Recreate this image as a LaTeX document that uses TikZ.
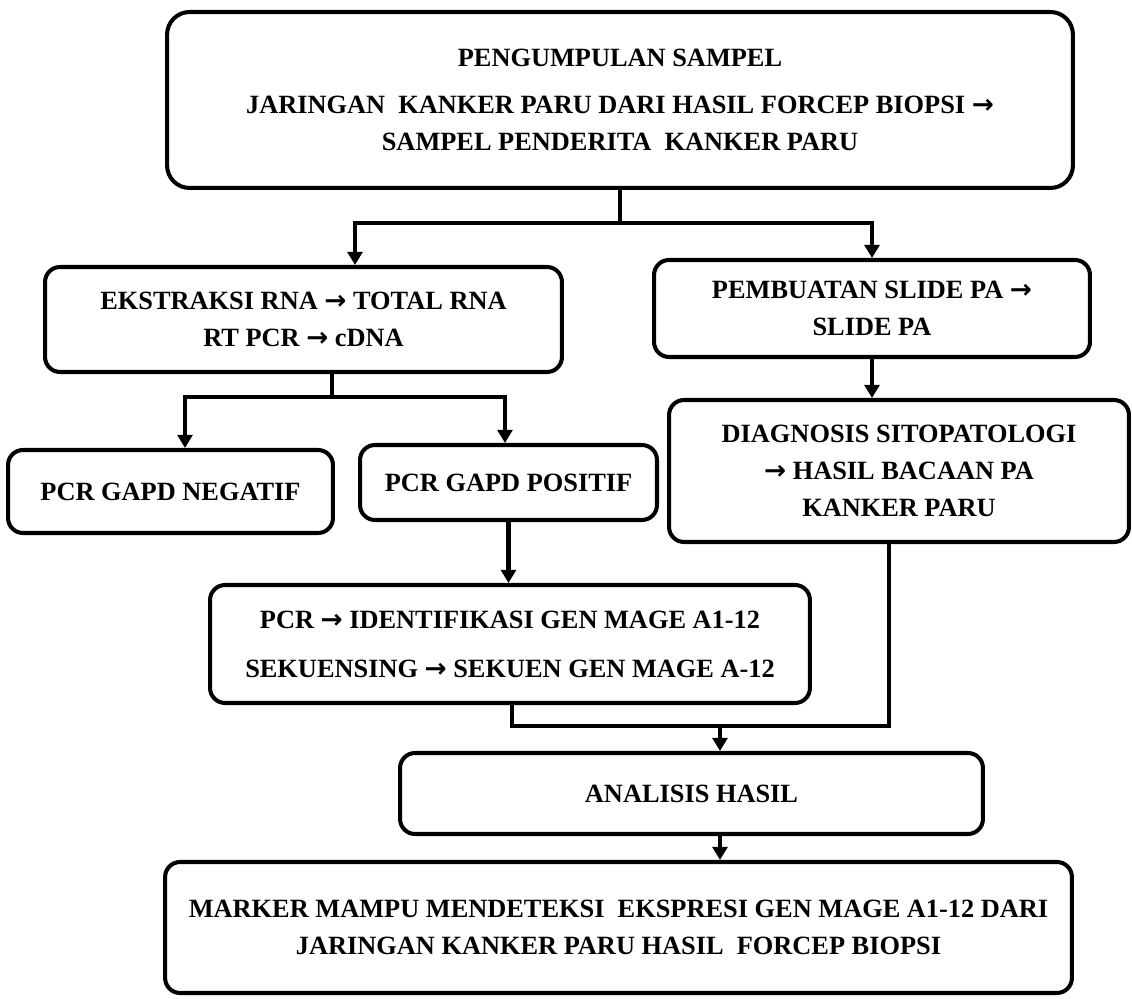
\documentclass[tikz,border=0pt]{standalone}
\usepackage{fontspec}
\setmainfont{Liberation Serif}
\newfontfamily\arrowfont{DejaVu Sans}
\newcommand{\tarrow}{{\arrowfont\bfseries →}}
\usepackage{tikz}
\usetikzlibrary{arrows.meta}

\begin{document}
\begin{tikzpicture}[x=0.02cm, y=-0.02cm,
   box/.style={draw, line width=2.3pt, rounded corners=0.3cm, align=center, inner sep=0pt,
     font=\fontsize{15}{21}\selectfont\bfseries},
   line/.style={line width=2.4pt},
   arr/.style={line width=2.4pt, -{Triangle[length=7.5pt,width=8.5pt]}}]
   \useasboundingbox (0,0) rectangle (1132,999);

   \node[box, rounded corners=0.45cm, minimum width=18.12cm, minimum height=3.52cm] (top) at (620,100)
     {PENGUMPULAN SAMPEL\\[6pt] JARINGAN\ \ KANKER PARU DARI HASIL FORCEP BIOPSI \tarrow\\ SAMPEL PENDERITA\ \ KANKER PARU};
   \node[box, minimum width=10.34cm, minimum height=2.1cm] (ekstr) at (303.5,319.5)
     {EKSTRAKSI RNA \tarrow{} TOTAL RNA\\ RT PCR \tarrow{} cDNA};
   \node[box, minimum width=8.72cm, minimum height=1.94cm] (slide) at (872,308.5)
     {PEMBUATAN SLIDE PA \tarrow\\ SLIDE PA};
   \node[box, minimum width=6.5cm, minimum height=1.66cm] (neg) at (170.5,491.5) {PCR GAPD NEGATIF};
   \node[box, minimum width=5.94cm, minimum height=1.5cm] (pos) at (508.5,482.5) {PCR GAPD POSITIF};
   \node[box, minimum width=9.2cm, minimum height=2.84cm] (diag) at (899,471)
     {DIAGNOSIS SITOPATOLOGI\\ \tarrow{} HASIL BACAAN PA\\ KANKER PARU};
   \node[box, minimum width=12cm, minimum height=2.36cm] (pcr) at (510,644)
     {PCR \tarrow{} IDENTIFIKASI GEN MAGE A1-12\\[7pt] SEKUENSING \tarrow{} SEKUEN GEN MAGE A-12};
   \node[box, minimum width=11.66cm, minimum height=1.62cm] (anal) at (691.5,793.5) {ANALISIS HASIL};
   \node[box, minimum width=18.14cm, minimum height=2.62cm] (marker) at (618.5,927.5)
     {MARKER MAMPU MENDETEKSI\ \ EKSPRESI GEN MAGE A1-12 DARI\\ JARINGAN KANKER PARU HASIL\ \ FORCEP BIOPSI};

   \coordinate (c1) at (620,223);
   \coordinate (c1l) at (355,223);
   \coordinate (c1r) at (872,223);
   \draw[arr] (top.south) -- (c1) -| (c1l |- ekstr.north);
   \draw[arr] (c1) -| (c1r |- slide.north);

   \coordinate (c2) at (332,397);
   \coordinate (c2l) at (185,397);
   \coordinate (c2r) at (505,397);
   \draw[arr] (ekstr.south -| c2) -- (c2) -| (c2l |- neg.north);
   \draw[arr] (c2) -| (c2r |- pos.north);

   \draw[arr] (slide.south) -- (slide.south |- diag.north);
   \draw[arr] (pos.south) -- (pos.south |- pcr.north);

   \coordinate (c3) at (720,726);
   \coordinate (c3l) at (512,726);
   \coordinate (c3r) at (889,726);
   \draw[line] (pcr.south -| c3l) |- (c3r) -- (diag.south -| c3r);
   \draw[arr] (c3) -- (c3 |- anal.north);
   \draw[arr] (anal.south -| c3) -- (c3 |- marker.north);
\end{tikzpicture}
\end{document}
